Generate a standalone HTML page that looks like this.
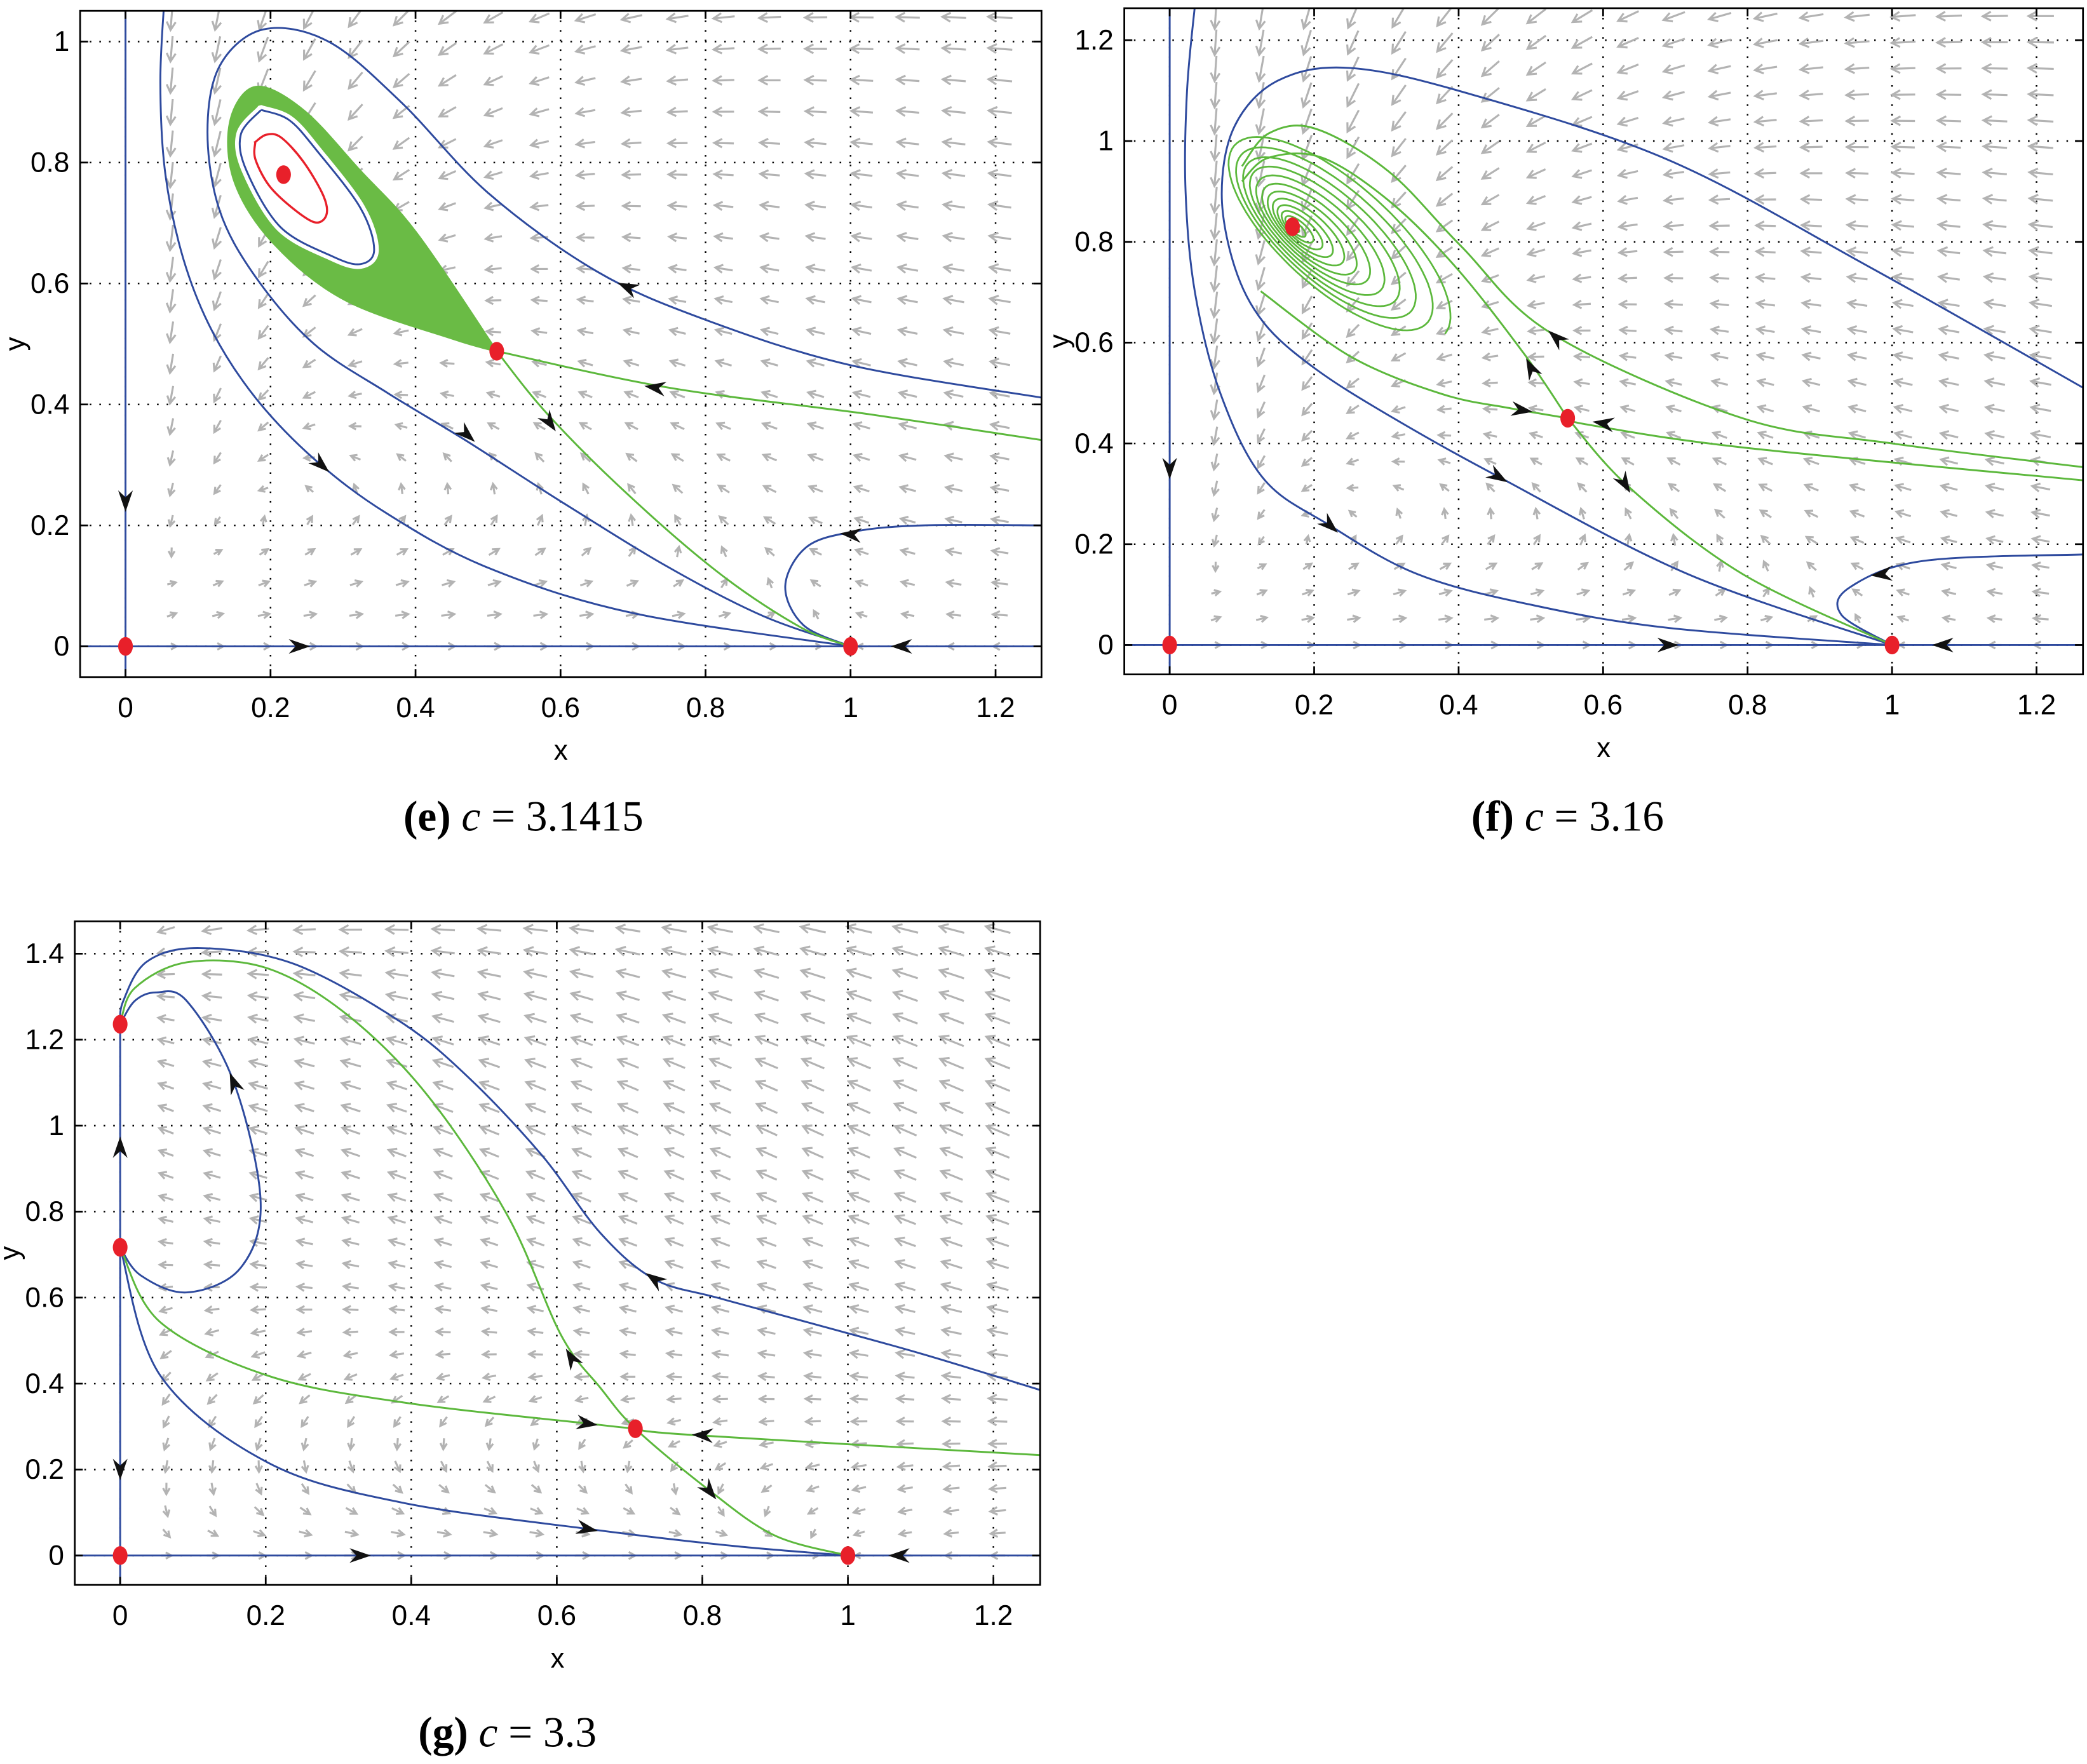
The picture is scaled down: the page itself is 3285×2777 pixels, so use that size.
<!DOCTYPE html>
<html><head><meta charset="utf-8"><style>
html,body{margin:0;padding:0;background:#fff}
svg{display:block}
</style></head><body>
<svg id="fig" xmlns="http://www.w3.org/2000/svg" width="3285" height="2777" viewBox="0 0 1563 1321">
<g id="layer"></g>
<text x="392" y="622" text-anchor="middle" font-family="Liberation Serif, serif" font-size="32"><tspan font-weight="bold">(e)</tspan> <tspan font-style="italic">c</tspan> = 3.1415</text>
<text x="1174" y="622" text-anchor="middle" font-family="Liberation Serif, serif" font-size="32"><tspan font-weight="bold">(f)</tspan> <tspan font-style="italic">c</tspan> = 3.16</text>
<text x="380" y="1308" text-anchor="middle" font-family="Liberation Serif, serif" font-size="32"><tspan font-weight="bold">(g)</tspan> <tspan font-style="italic">c</tspan> = 3.3</text>
</svg>
<script>
// ---- data (data coordinates) ----
const xTicks = [0,0.2,0.4,0.6,0.8,1,1.2];
const yTicksE = [0,0.2,0.4,0.6,0.8,1];
const yTicksF = [0,0.2,0.4,0.6,0.8,1,1.2];
const yTicksG = [0,0.2,0.4,0.6,0.8,1,1.2,1.4];

const eqE = [[0,0],[1,0],[0.512,0.488],[0.218,0.78]];
const eqF = [[0,0],[1,0],[0.551,0.45],[0.17,0.83]];
const eqG = [[0,0],[1,0],[0,0.717],[0,1.236],[0.708,0.295]];

const blueE = [
 [[0.053,1.06],[0.048,0.93],[0.055,0.78],[0.08,0.64],[0.12,0.52],[0.18,0.41],[0.26,0.31],[0.36,0.22],[0.5,0.13],[0.7,0.055],[1,0]],
 [[1.27,0.41],[1.0,0.465],[0.8,0.54],[0.65,0.62],[0.5,0.75],[0.38,0.9],[0.28,1.0],[0.19,1.02],[0.13,0.96],[0.113,0.85],[0.13,0.72],[0.18,0.61],[0.26,0.5],[0.36,0.42],[0.47,0.34],[0.6,0.24],[0.75,0.13],[0.88,0.05],[1,0]],
 [[0.187,0.887],[0.226,0.87],[0.265,0.818],[0.324,0.725],[0.343,0.656],[0.324,0.632],[0.285,0.645],[0.214,0.693],[0.167,0.786],[0.159,0.846],[0.187,0.887]],
 [[1.27,0.2],[1.1,0.2],[1.006,0.19],[0.94,0.165],[0.91,0.1],[0.935,0.035],[1,0]]
];
const greenE = [
 [[1.27,0.34],[1.024,0.384],[0.748,0.428],[0.512,0.488]],
 [[0.512,0.488],[0.582,0.384],[0.692,0.252],[0.821,0.119],[0.932,0.031],[1,0]]
];
const bandE = [[0.512,0.488],[0.453,0.508],[0.304,0.572],[0.206,0.664],[0.151,0.766],[0.144,0.866],[0.179,0.925],[0.245,0.887],[0.324,0.786],[0.401,0.684],[0.512,0.488]];
const redLoopE = [[0.179,0.834],[0.194,0.846],[0.214,0.842],[0.245,0.802],[0.273,0.745],[0.277,0.713],[0.261,0.701],[0.23,0.725],[0.198,0.762],[0.179,0.806],[0.179,0.834]];
const arrowsE = [[0,0.24,0,-1],[0.24,0,1,0],[1.07,0,-1,0],[0.692,0.594,-1,0.45],[0.471,0.35,1,-0.9],[0.27,0.3,1,-0.9],[0.585,0.37,0.7,-1],[0.73,0.428,-1,0.15],[1.0,0.185,-1,0.1]];

const blueF = [
 [[0.035,1.27],[0.024,1.1],[0.022,0.9],[0.035,0.7],[0.07,0.5],[0.13,0.33],[0.222,0.237],[0.344,0.14],[0.5,0.08],[0.691,0.034],[1,0]],
 [[1.27,0.506],[0.969,0.75],[0.691,0.962],[0.414,1.094],[0.25,1.145],[0.15,1.12],[0.09,1.03],[0.072,0.895],[0.09,0.75],[0.13,0.64],[0.2,0.55],[0.303,0.456],[0.455,0.334],[0.717,0.141],[1,0]],
 [[1.27,0.18],[1.043,0.167],[0.941,0.114],[0.93,0.06],[1,0]]
];
const greenF = [
 [[1.27,0.352],[1.0,0.4],[0.793,0.45],[0.53,0.617],[0.403,0.792],[0.303,0.94],[0.201,1.025],[0.137,1.015],[0.1,0.95]],
 [[1.27,0.326],[0.793,0.392],[0.58,0.437],[0.551,0.45]],
 [[0.551,0.45],[0.636,0.313],[0.793,0.141],[1,0]],
 [[0.126,0.702],[0.251,0.572],[0.377,0.498],[0.475,0.469],[0.551,0.45]],
 [[0.551,0.45],[0.492,0.575],[0.396,0.75],[0.303,0.882],[0.211,0.967],[0.137,0.967],[0.1,0.92]]
];
const spiralF = [0.17,0.83,108,42,14];
const arrowsF = [[0,0.35,0,-1],[0.69,0,1,0],[1.07,0,-1,0],[0.222,0.237,1,-0.9],[0.455,0.334,1,-0.6],[0.488,0.466,1,-0.15],[0.5,0.55,-0.5,1],[0.535,0.61,-1,0.9],[0.6,0.44,-1,0.15],[0.63,0.32,0.6,-1],[0.985,0.14,-1,-0.1]];

const blueG = [
 [[1.27,0.382],[1.1,0.47],[0.95,0.54],[0.82,0.6],[0.734,0.643],[0.66,0.75],[0.58,0.93],[0.48,1.11],[0.385,1.242],[0.239,1.376],[0.11,1.413],[0.037,1.382],[0.004,1.289],[0,1.236]],
 [[0,1.236],[0.02,1.29],[0.05,1.31],[0.092,1.289],[0.156,1.102],[0.193,0.823],[0.165,0.668],[0.092,0.612],[0.028,0.652],[0,0.717]],
 [[0,0.717],[0.055,0.419],[0.202,0.217],[0.385,0.124],[0.642,0.062],[0.844,0.022],[1,0]]
];
const greenG = [
 [[0,1.236],[0.02,1.32],[0.092,1.38],[0.202,1.366],[0.312,1.258],[0.422,1.071],[0.532,0.792],[0.606,0.512],[0.661,0.388],[0.708,0.295],[0.807,0.155],[0.899,0.047],[1,0]],
 [[0,0.717],[0.055,0.543],[0.202,0.419],[0.385,0.357],[0.642,0.307],[0.708,0.295]],
 [[1.27,0.233],[0.789,0.28],[0.708,0.295]]
];
const arrowsG = [[0,0.95,0,1],[0,0.2,0,-1],[0.33,0,1,0],[1.07,0,-1,0],[0.156,1.1,-0.4,1],[0.734,0.643,-1,0.7],[0.642,0.062,1,-0.2],[0.642,0.307,1,-0.15],[0.62,0.46,-0.6,1],[0.8,0.28,-1,0.05],[0.81,0.15,0.8,-1]];

// ---- rendering ----
const NS='http://www.w3.org/2000/svg';
const layer=document.getElementById('layer');
function mk(tag,attrs,parent){const e=document.createElementNS(NS,tag);for(const k in attrs)e.setAttribute(k,attrs[k]);(parent||layer).appendChild(e);return e;}

function panel(id,box,x0,xs,y0,ys,yTicks,field,blue,green,eq,arrows,extra){
 const [L,T,R,B]=box;
 const X=v=>x0+v*xs, Y=v=>y0-v*ys;
 const g=mk('g',{});
 
 
 const cp=mk('clipPath',{id:'clip'+id},g);mk('rect',{x:L,y:T,width:R-L,height:B-T},cp);
 const inner=mk('g',{'clip-path':'url(#clip'+id+')'},g);
 xTicks.forEach(t=>{const l=mk('line',{x1:X(t),x2:X(t),y1:T,y2:B,stroke:'#000','stroke-width':1.2,'stroke-dasharray':'1.2 6'},inner);});
 yTicks.forEach(t=>{const l=mk('line',{x1:L,x2:R,y1:Y(t),y2:Y(t),stroke:'#000','stroke-width':1.2,'stroke-dasharray':'1.2 6'},inner);});
 const q=mk('g',{stroke:'#b3b3b3','stroke-width':1.5,fill:'none'},inner);
 
 const dx=0.0635*xs, dy=0.052*ys;
 for(let px=x0;px<R;px+=dx){for(let py=y0;py>T;py-=dy){
   const x=(px-x0)/xs,y=(y0-py)/ys; if(x<0.005||y<-0.01)continue;
   let [fx,fy]=field(x,y); const m=Math.hypot(fx,fy); if(m<1e-9)continue;
   let len=Math.min(19,5+11*Math.sqrt(m)); const ux=fx/m,uy=-fy/m;
   const ex=px+ux*len/2,ey=py+uy*len/2,sx=px-ux*len/2,sy=py-uy*len/2;
   const a=Math.atan2(uy,ux),h=Math.min(7,3+len*0.25);
   mk('path',{d:`M${sx},${sy}L${ex},${ey}M${ex-h*Math.cos(a-0.5)},${ey-h*Math.sin(a-0.5)}L${ex},${ey}L${ex-h*Math.cos(a+0.5)},${ey-h*Math.sin(a+0.5)}`},q);
 }}
 const smooth=pts=>{let d='M'+X(pts[0][0])+','+Y(pts[0][1]);for(let i=0;i<pts.length-1;i++){const p0=pts[Math.max(i-1,0)],p1=pts[i],p2=pts[i+1],p3=pts[Math.min(i+2,pts.length-1)];
   const c1=[X(p1[0])+(X(p2[0])-X(p0[0]))/6,Y(p1[1])+(Y(p2[1])-Y(p0[1]))/6],c2=[X(p2[0])-(X(p3[0])-X(p1[0]))/6,Y(p2[1])-(Y(p3[1])-Y(p1[1]))/6];
   d+=`C${c1[0].toFixed(1)},${c1[1].toFixed(1)} ${c2[0].toFixed(1)},${c2[1].toFixed(1)} ${X(p2[0]).toFixed(1)},${Y(p2[1]).toFixed(1)}`;}return d;};
 const ax=mk('line',{x1:X(0),x2:X(0),y1:T,y2:B,stroke:'#2e4a9e','stroke-width':1.4},inner);
 
 if(id==='g'){ax.setAttribute('y1',Y(1.236));}
 const axx=mk('line',{x1:L,x2:R,y1:Y(0),y2:Y(0),stroke:'#2e4a9e','stroke-width':1.4},inner);
 
 if(extra)extra(inner,X,Y,smooth);
 blue.forEach(c=>{const p=mk('path',{d:smooth(c),fill:'none',stroke:'#2e4a9e','stroke-width':1.4},inner);});
 green.forEach(c=>{const p=mk('path',{d:smooth(c),fill:'none',stroke:'#5cb83c','stroke-width':1.4},inner);});
 arrows.forEach(a=>{const px=X(a[0]),py=Y(a[1]);const m=Math.hypot(a[2],a[3]);const ux=a[2]/m,uy=-a[3]/m;const ang=Math.atan2(uy,ux);
   const tip=[px+ux*8,py+uy*8];const b1=[tip[0]-17*Math.cos(ang-0.33),tip[1]-17*Math.sin(ang-0.33)],b2=[tip[0]-17*Math.cos(ang+0.33),tip[1]-17*Math.sin(ang+0.33)],mid=[tip[0]-11*ux,tip[1]-11*uy];
   const p=mk('path',{d:`M${tip}L${b1}L${mid}L${b2}Z`,fill:'#111'},inner);});
 eq.forEach(e=>{const c=mk('ellipse',{cx:X(e[0]),cy:Y(e[1]),rx:5.5,ry:7,fill:'#e8202a'},inner);});
 const fr=mk('rect',{x:L,y:T,width:R-L,height:B-T,fill:'none',stroke:'#000','stroke-width':1.3},g);
 
 xTicks.forEach(t=>{mk('line',{x1:X(t),x2:X(t),y1:B,y2:B-6,stroke:'#000','stroke-width':1.3},g);mk('line',{x1:X(t),x2:X(t),y1:T,y2:T+6,stroke:'#000','stroke-width':1.3},g);
   const tx=mk('text',{x:X(t),y:B+30,'text-anchor':'middle','font-family':'Liberation Sans, sans-serif','font-size':21},g);tx.textContent=String(t);});
 yTicks.forEach(t=>{mk('line',{x1:L,x2:L+6,y1:Y(t),y2:Y(t),stroke:'#000','stroke-width':1.3},g);mk('line',{x1:R,x2:R-6,y1:Y(t),y2:Y(t),stroke:'#000','stroke-width':1.3},g);
   const tx=mk('text',{x:L-8,y:Y(t)+7,'text-anchor':'end','font-family':'Liberation Sans, sans-serif','font-size':21},g);tx.textContent=String(t);});
 const xl=mk('text',{x:(L+R)/2,y:B+62,'text-anchor':'middle','font-family':'Liberation Sans, sans-serif','font-size':21},g);xl.textContent='x';
 const yl=mk('text',{x:0,y:0,'text-anchor':'middle','font-family':'Liberation Sans, sans-serif','font-size':21,transform:`translate(${L-42},${(T+B)/2}) rotate(-90)`},g);yl.textContent='y';
}
const fieldA=(x,y)=>[x*(1-x)-1.3*x*y/(x+0.15), 0.5*y*(1-y/(x+0.05))];
const fieldG=(x,y)=>[x*(1-x)-1.3*x*y/(x+0.15), 0.5*y*((y-0.7)*(1.3-y)*2.2 + x*0.8)];

panel('e',[60,8,780,507],94,543,484,453,yTicksE,fieldA,blueE,greenE,eqE,arrowsE,(inner,X,Y,smooth)=>{
 const b=mk('path',{d:smooth(bandE)+'Z',fill:'#6abb45',stroke:'#6abb45','stroke-width':1.5},inner);
 
 mk('path',{d:smooth(blueE[2])+'Z',fill:'#fff',stroke:'#fff','stroke-width':7},inner);
 const r=mk('path',{d:smooth(redLoopE)+'Z',fill:'none',stroke:'#e8202a','stroke-width':1.6},inner);
 
});
panel('f',[842,6,1560,505],876,541,483,377.5,yTicksF,fieldA,blueF,greenF,eqF,arrowsF,(inner,X,Y)=>{
 const [cx,cy,ra,rb,n]=spiralF;
 let d='';const steps=n*90;const rot=42*Math.PI/180;
 for(let i=0;i<=steps;i++){const t=i/90*2*Math.PI;const s=Math.pow(i/steps,1.6);
   const ex=ra*s*Math.cos(t),ey=rb*s*Math.sin(t);
   const ox=X(cx)+34*s, oy=Y(cy)+8*s;
   const px=ox+ex*Math.cos(rot)-ey*Math.sin(rot),py=oy+ex*Math.sin(rot)+ey*Math.cos(rot);
   d+=(i?'L':'M')+px.toFixed(1)+','+py.toFixed(1);}
 const p=mk('path',{d:d,fill:'none',stroke:'#5cb83c','stroke-width':1.3},inner);
 
});
panel('g',[56,690,779,1187],90,545,1165,322,yTicksG,fieldG,blueG,greenG,eqG,arrowsG,null);
</script>
</body></html>
